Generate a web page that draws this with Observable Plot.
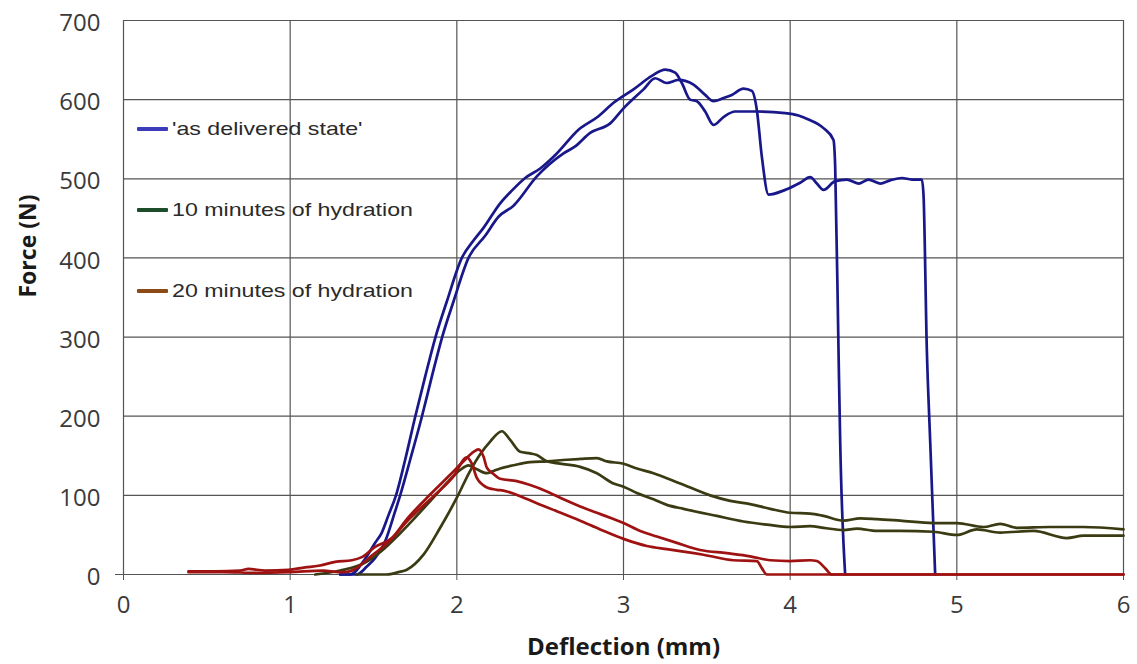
<!DOCTYPE html>
<html>
<head>
<meta charset="utf-8">
<script src="https://cdn.jsdelivr.net/npm/d3@7"></script>
<script src="https://cdn.jsdelivr.net/npm/@observablehq/plot@0.6"></script>
<style>
  body { margin: 0; background: #fff; }
  #wrap { position: relative; width: 1137px; height: 664px; }
  #legend { position: absolute; left: 137px; top: 88px; font-family: "Liberation Sans", Arial, sans-serif; font-size: 19px; color: #2a2a2a; }
  .row { height: 81px; display: flex; align-items: center; }
  .sw { width: 31px; height: 4px; border-radius: 1px; margin-right: 4px; }
  .lab { display: inline-block; transform: scaleX(1.22); transform-origin: left center; white-space: nowrap; }
</style>
</head>
<body>
<div id="wrap"><div id="legend"></div></div>
<script>
// ---- axis ticks ----
const xTicks = [0, 1, 2, 3, 4, 5, 6];
const yTicks = [0, 100, 200, 300, 400, 500, 600, 700];

// ---- series ----
const seriesNames = ["'as delivered state'", "10 minutes of hydration", "20 minutes of hydration"];
const lineColors = ["#18188a", "#3a3b12", "#9e1212"];
const legendColors = ["#3c3cb8", "#1e4d2b", "#8b4a16"];

// 'as delivered state' – specimen A
const deliveredA_x = [1.30,1.36,1.45,1.51,1.55,1.59,1.635,1.69,1.751,1.81,1.872,1.94,2.03,2.10,2.16,2.26,2.33,2.41,2.50,2.60,2.73,2.85,2.94,3.06,3.17,3.25,3.31,3.35,3.40,3.44,3.49,3.54,3.60,3.67,3.79,3.97,4.05,4.11,4.20,4.26,4.27,4.29,4.30,4.33];
const deliveredA_y = [0,0,20,40,53,75,100,145,200,250,300,345,400,422,438,469,485,501,513,532,562,579,596,613,630,638,634,621,600,598,585,568,578,585,585,583,580,575,564,549,516,284,169,0];
// 'as delivered state' – specimen B
const deliveredB_x = [1.30,1.40,1.46,1.51,1.57,1.63,1.66,1.72,1.791,1.85,1.912,1.98,2.07,2.17,2.25,2.34,2.48,2.64,2.71,2.80,2.92,3.00,3.12,3.19,3.26,3.33,3.42,3.49,3.54,3.60,3.65,3.72,3.77,3.80,3.83,3.87,3.97,4.06,4.12,4.16,4.20,4.27,4.34,4.41,4.47,4.54,4.60,4.67,4.73,4.79,4.80,4.82,4.84,4.87];
const deliveredB_y = [0,0,10,21,42,80,100,145,200,250,300,345,400,428,452,466,503,532,541,558,570,589,613,627,621,625,619,606,598,602,606,614,611,587,528,480,486,495,502,494,486,497,499,494,499,494,498,501,499,499,480,284,169,0];

// 10 minutes of hydration – specimen A
const hydr10A_x = [1.40,1.58,1.65,1.70,1.80,1.90,2.00,2.08,2.14,2.20,2.27,2.32,2.38,2.44,2.48,2.54,2.62,2.74,2.84,2.94,3.00,3.08,3.18,3.26,3.36,3.56,3.72,3.86,4.00,4.12,4.20,4.32,4.40,4.52,4.66,4.86,5.00,5.12,5.26,5.46,5.66,5.76,5.88,6.00];
const hydr10A_y = [0,0,3,6,25,59,97,131,152,168,181,170,155,153,151,143,140,136,128,115,111,103,95,88,83,74,67,63,60,61,59,56,58,55,55,54,50,57,53,55,46,49,49,49];
// 10 minutes of hydration – specimen B
const hydr10B_x = [1.15,1.30,1.45,1.55,1.65,1.75,1.85,1.95,2.02,2.07,2.12,2.18,2.21,2.26,2.34,2.44,2.54,2.66,2.74,2.84,2.90,3.00,3.08,3.18,3.34,3.52,3.64,3.76,3.88,4.00,4.12,4.20,4.32,4.42,4.52,4.66,4.86,5.00,5.16,5.26,5.36,5.56,5.76,6.00];
const hydr10B_y = [0,5,15,30,50,72,95,118,132,138,133,128,130,134,138,142,143,145,146,147,143,140,134,128,115,100,93,89,83,78,77,74,68,71,70,68,65,65,60,64,59,60,60,57];

// 20 minutes of hydration – specimen A
const hydr20A_x = [0.39,0.55,0.70,0.75,0.85,0.99,1.09,1.17,1.27,1.37,1.43,1.51,1.61,1.70,1.84,1.96,2.04,2.10,2.13,2.16,2.18,2.22,2.26,2.36,2.44,2.54,2.64,2.74,2.84,2.94,3.00,3.10,3.20,3.32,3.46,3.62,3.76,3.88,4.00,4.12,4.16,4.21,4.25,6.00];
const hydr20A_y = [4,4,5,7,5,6,9,11,16,18,22,35,46,70,101,126,143,155,158,149,135,127,121,118,113,105,95,86,78,70,65,55,48,40,31,27,23,18,17,18,17,8,0,0];
// 20 minutes of hydration – specimen B
const hydr20B_x = [0.39,0.60,0.80,1.00,1.20,1.29,1.33,1.39,1.49,1.59,1.70,1.86,1.98,2.06,2.09,2.12,2.18,2.24,2.28,2.38,2.48,2.60,2.74,2.86,3.00,3.14,3.26,3.36,3.48,3.66,3.80,3.83,3.86,6.00];
const hydr20B_y = [3,3,2,3,5,3,3,7,24,41,67,99,124,148,140,122,110,107,106,99,90,80,68,57,45,36,32,29,25,18,17,8,0,0];

// ---- build table ----
function rows(xs, ys, series, run) {
  return xs.map((x, i) => ({x, y: ys[i], series, run}));
}
const data = [
  ...rows(deliveredA_x, deliveredA_y, seriesNames[0], "dA"),
  ...rows(deliveredB_x, deliveredB_y, seriesNames[0], "dB"),
  ...rows(hydr10A_x, hydr10A_y, seriesNames[1], "h10A"),
  ...rows(hydr10B_x, hydr10B_y, seriesNames[1], "h10B"),
  ...rows(hydr20A_x, hydr20A_y, seriesNames[2], "h20A"),
  ...rows(hydr20B_x, hydr20B_y, seriesNames[2], "h20B")
];

const gridColor = "#555";

const chart = Plot.plot({
  width: 1137,
  height: 664,
  marginLeft: 123,
  marginRight: 14,
  marginTop: 20,
  marginBottom: 90,
  style: {fontFamily: "'Open Sans', sans-serif", background: "#fff", overflow: "visible"},
  x: {domain: [0, 6]},
  y: {domain: [0, 700]},
  color: {domain: seriesNames, range: lineColors},
  marks: [
    Plot.ruleX(xTicks, {stroke: gridColor, strokeWidth: 1.2}),
    Plot.ruleY(yTicks, {stroke: gridColor, strokeWidth: 1.2}),
    Plot.axisX({ticks: xTicks, tickSize: 6, tickPadding: 15, fontSize: 24, fill: "#3a3a3a", stroke: gridColor, label: null, tickFormat: d3.format("d")}),
    Plot.axisY({ticks: [0], tickSize: 8, stroke: gridColor, tickFormat: () => "", label: null}),
    Plot.axisY({ticks: yTicks, tickSize: 0, tickPadding: 23, fontSize: 24, fill: "#3a3a3a", dy: 3, label: null, tickFormat: d3.format("d")}),
    Plot.line(data, {x: "x", y: "y", z: "run", stroke: "series", strokeWidth: 2.7, curve: "monotone-x", strokeLinejoin: "round", strokeLinecap: "round"}),
    Plot.text(["Deflection (mm)"], {frameAnchor: "bottom", lineAnchor: "middle", dy: 73, fontSize: 24, fontWeight: "bold", fill: "#1a1a1a"}),
    Plot.text(["Force (N)"], {frameAnchor: "left", lineAnchor: "middle", rotate: -90, dx: -95, fontSize: 23, fontWeight: "bold", fill: "#1a1a1a"})
  ]
});

const wrap = document.getElementById("wrap");
wrap.insertBefore(chart, wrap.firstChild);

const legend = document.getElementById("legend");
seriesNames.forEach((name, i) => {
  const row = document.createElement("div");
  row.className = "row";
  const sw = document.createElement("div");
  sw.className = "sw";
  sw.style.background = legendColors[i];
  const label = document.createElement("span");
  label.className = "lab";
  label.textContent = name;
  row.appendChild(sw);
  row.appendChild(label);
  legend.appendChild(row);
});
</script>
</body>
</html>
